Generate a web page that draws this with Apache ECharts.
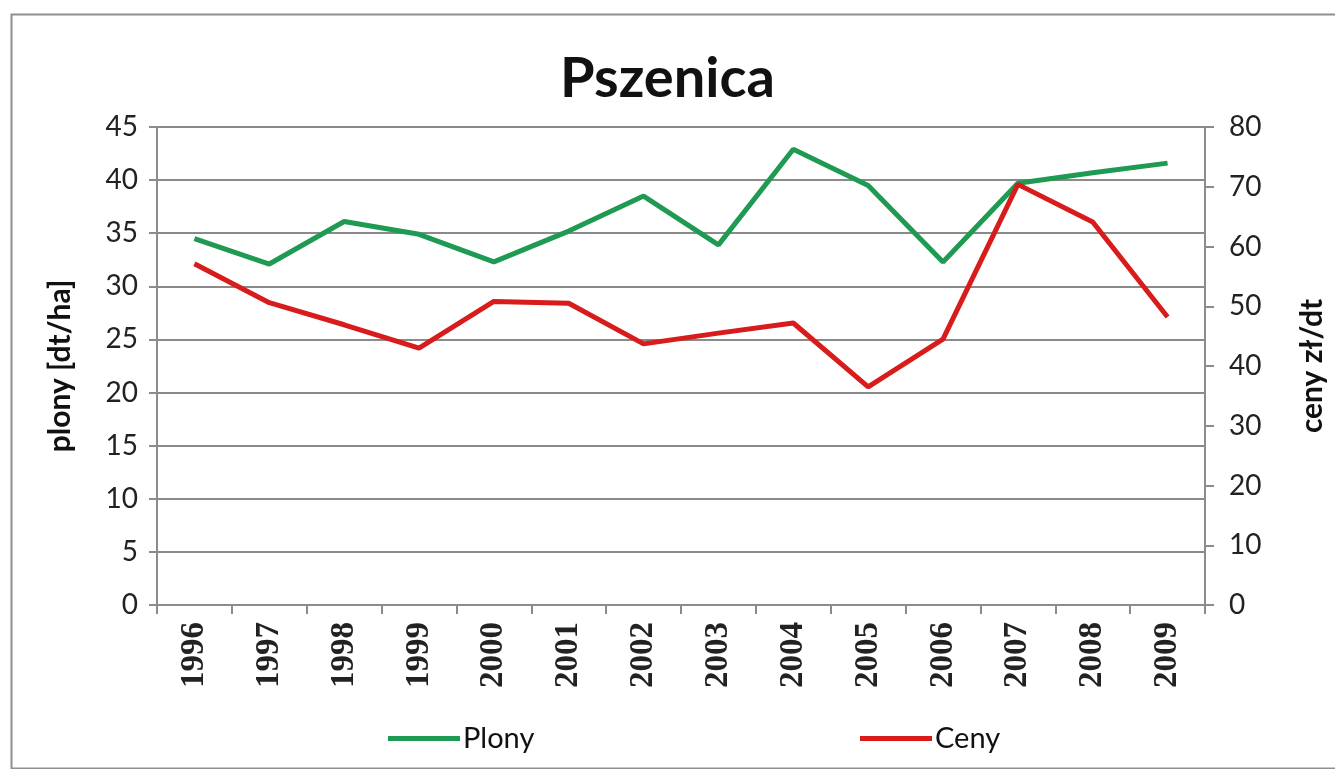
<!DOCTYPE html>
<html>
<head>
<meta charset="utf-8">
<script src="https://cdn.jsdelivr.net/npm/echarts@6/dist/echarts.min.js"></script>
<style>
html,body{margin:0;padding:0;background:#fff;}
#c{width:1335px;height:769px;}
</style>
</head>
<body>
<div id="c"></div>
<script>
const years = ['1996','1997','1998','1999','2000','2001','2002','2003','2004','2005','2006','2007','2008','2009'];
const plony = [34.5, 32.1, 36.1, 34.9, 32.3, 35.2, 38.5, 33.9, 42.9, 39.5, 32.3, 39.7, 40.7, 41.6];
const ceny  = [57.1, 50.6, 46.9, 43.0, 50.8, 50.5, 43.7, 45.5, 47.2, 36.5, 44.5, 70.4, 64.1, 48.2];
const leftTicks = {min: 0, max: 45, interval: 5};
const rightTicks = {min: 0, max: 80, interval: 10};

const chart = echarts.init(document.getElementById('c'), null, {renderer: 'canvas'});
const sans = 'Lato, "Open Sans", sans-serif';
const grayAxis = '#8c8c8c';
const green = '#1f9a52';
const red = '#d81b1b';
chart.setOption({
  animation: false,
  backgroundColor: '#fff',
  graphic: [{
    type: 'rect', left: 9, top: 12, silent: true,
    shape: {x: 0, y: 0, width: 1400, height: 754},
    style: {fill: 'none', stroke: '#8f8f8f', lineWidth: 2}
  }],
  title: {
    text: 'Pszenica', left: 'center', top: 46,
    textStyle: {fontFamily: sans, fontSize: 56, fontWeight: 'bold', color: '#111'}
  },
  legend: [
    {data: [{name: 'Plony', itemStyle: {color: green}}], left: 383, top: 719, icon: 'rect', itemWidth: 72, itemHeight: 5, itemGap: 6,
     textStyle: {fontFamily: sans, fontSize: 29, color: '#111', padding: [0, 0, 0, -2]}},
    {data: [{name: 'Ceny', itemStyle: {color: red}}], left: 855, top: 719, icon: 'rect', itemWidth: 72, itemHeight: 5, itemGap: 6,
     textStyle: {fontFamily: sans, fontSize: 29, color: '#111', padding: [0, 0, 0, -2]}}
  ],
  grid: {left: 157, right: 127, top: 127, bottom: 164, containLabel: false},
  xAxis: {
    type: 'category', data: years, boundaryGap: true,
    axisLine: {lineStyle: {color: grayAxis, width: 2}},
    axisTick: {show: true, interval: 0, length: 9, lineStyle: {color: grayAxis, width: 2}},
    axisLabel: {interval: 0, rotate: 90, margin: 17, fontFamily: '"Liberation Serif", serif',
      fontWeight: 'bold', fontSize: 33, color: '#222'}
  },
  yAxis: [
    {
      type: 'value', position: 'left', min: leftTicks.min, max: leftTicks.max, interval: leftTicks.interval,
      name: 'plony [dt/ha]', nameLocation: 'middle', nameGap: 82, nameRotate: 90,
      nameTextStyle: {fontFamily: sans, fontSize: 30, fontWeight: 'bold', color: '#111'},
      axisLine: {show: true, lineStyle: {color: grayAxis, width: 2}},
      axisTick: {show: true, length: 8, lineStyle: {color: grayAxis, width: 2}},
      axisLabel: {margin: 19, fontFamily: sans, fontSize: 28, color: '#222'},
      splitLine: {show: true, lineStyle: {color: '#8a8a8a', width: 2}}
    },
    {
      type: 'value', position: 'right', min: rightTicks.min, max: rightTicks.max, interval: rightTicks.interval,
      name: 'ceny zł/dt', nameLocation: 'middle', nameGap: 92, nameRotate: 90,
      nameTextStyle: {fontFamily: sans, fontSize: 30, fontWeight: 'bold', color: '#111'},
      axisLine: {show: true, lineStyle: {color: grayAxis, width: 2}},
      axisTick: {show: true, length: 9, lineStyle: {color: grayAxis, width: 2}},
      axisLabel: {margin: 24, fontFamily: sans, fontSize: 28, color: '#222'},
      splitLine: {show: false}
    }
  ],
  series: [
    {name: 'Plony', type: 'line', yAxisIndex: 0, data: plony, symbol: 'none',
     lineStyle: {color: green, width: 5}, itemStyle: {color: green}},
    {name: 'Ceny', type: 'line', yAxisIndex: 1, data: ceny, symbol: 'none',
     lineStyle: {color: red, width: 5}, itemStyle: {color: red}}
  ]
});
</script>
</body>
</html>
